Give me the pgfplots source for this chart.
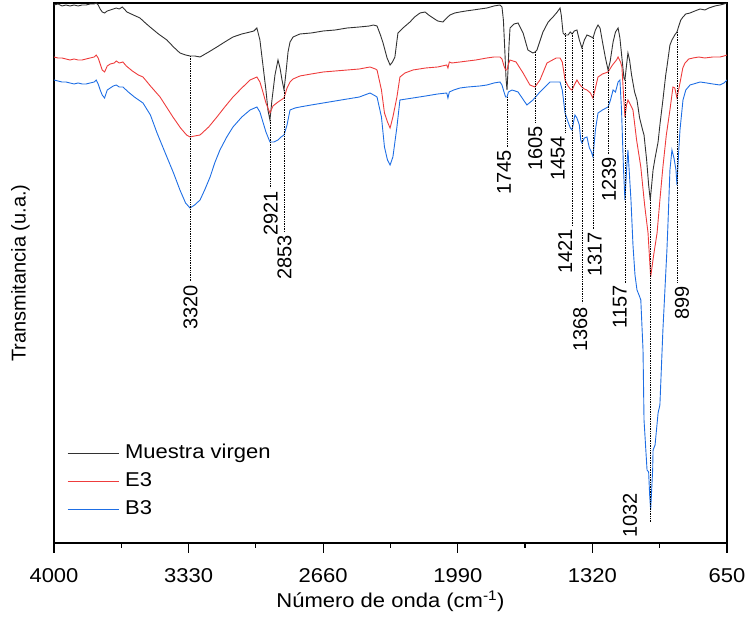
\documentclass[border=0pt]{standalone}
\usepackage{fontspec}
\setmainfont{Liberation Sans}
\newfontfamily\hfont[FakeStretch=1.1]{Liberation Sans}
\usepackage{pgfplots}
\pgfplotsset{compat=1.18}
\definecolor{cblack}{RGB}{50,50,50}
\definecolor{cred}{RGB}{238,60,60}
\definecolor{cblue}{RGB}{30,110,228}
\newcommand\hf{\hfont\fontsize{20}{24}\selectfont}
\newcommand\lf{\fontsize{20}{24}\selectfont}
% peak marker: wavenumber, curve y, line end, label x, label top, text
\newcommand\pk[6]{%
  \draw[densely dotted, line width=0.7pt] (axis cs:#1,-#2) -- (axis cs:#1,-#3);
  \node[rotate=90, anchor=east, inner sep=0pt, font=\lf] at (axis cs:#4,-#5) {#6};
}

\begin{document}
\begin{tikzpicture}
\begin{axis}[
  scale only axis, width=673pt, height=540pt,
  x dir=reverse, xmin=650, xmax=4000, ymin=-543, ymax=-3,
  axis line style={line width=1.2pt},
  xtick={650,1320,1990,2660,3330,4000},
  xticklabels={650,1320,1990,2660,3330,4000},
  minor x tick num=1,
  xtick pos=left, ytick=\empty,
  tick align=outside,
  major tick length=10pt, minor tick length=5pt,
  every tick/.style={black, line width=1.2pt},
  xticklabel style={font=\hf, anchor=center, yshift=-23pt, inner sep=0pt},
  xlabel={Número de onda (cm\textsuperscript{-1})},
  xlabel style={font=\hf, at={(axis description cs:0.5,-0.108)}, anchor=center},
  ylabel={Transmitancia (u.a.)},
  ylabel style={font=\lf, at={(axis description cs:-0.05,0.5)}, anchor=center},
  legend style={draw=none, fill=none, inner sep=0pt,
    at={(axis description cs:0.0193,0.183)}, anchor=north west,
    font=\hf, row sep=10pt, column sep=6pt,
    nodes={inner sep=0pt, text height=14pt, text depth=4pt}},
  legend cell align=left,
  legend image code/.code={\draw[#1] (0pt,0pt) -- (51pt,0pt);},
]
% Muestra virgen
\addplot[cblack, line width=0.9pt] coordinates {
(4000,-5) (3980,-4) (3960,-6) (3940,-5) (3920,-6) (3900,-5) (3880,-6) (3860,-5) (3840,-5) (3820,-4)
(3800,-4) (3790,-3) (3780,-5) (3770,-9) (3760,-12) (3748,-13) (3735,-11) (3720,-10) (3705,-9) (3690,-8)
(3675,-9) (3660,-7) (3650,-9) (3637,-12) (3605,-15) (3572,-18) (3545,-23) (3522,-27) (3480,-34) (3438,-40)
(3405,-47) (3373,-53) (3345,-55) (3323,-56) (3300,-56) (3273,-57) (3230,-52) (3189,-47) (3150,-42) (3109,-37)
(3065,-34) (3024,-32) (3005,-31) (2990,-28) (2975,-40) (2960,-65) (2945,-90) (2935,-110) (2925,-120) (2915,-100)
(2900,-75) (2885,-60) (2875,-68) (2865,-80) (2855,-90) (2845,-72) (2835,-52) (2825,-42) (2810,-37) (2776,-34)
(2720,-33) (2660,-31) (2600,-30) (2540,-28) (2480,-27) (2430,-26) (2410,-25) (2392,-26) (2375,-35) (2362,-43)
(2342,-58) (2327,-65) (2315,-62) (2303,-57) (2288,-33) (2263,-28) (2228,-22) (2205,-17) (2178,-13) (2153,-12)
(2135,-15) (2113,-18) (2090,-21) (2064,-22) (2045,-18) (2029,-15) (2005,-13) (1979,-12) (1950,-11) (1914,-10)
(1880,-9) (1845,-8) (1810,-6) (1780,-5) (1770,-7) (1763,-20) (1756,-50) (1750,-78) (1745,-90) (1740,-70)
(1735,-45) (1730,-28) (1710,-24) (1690,-23) (1665,-33) (1641,-50) (1616,-53) (1605,-52) (1596,-50) (1566,-32)
(1540,-22) (1516,-17) (1495,-12) (1481,-8) (1475,-15) (1466,-33) (1456,-35) (1441,-35) (1430,-32) (1421,-34)
(1410,-31) (1397,-30) (1385,-40) (1372,-48) (1360,-40) (1347,-35) (1335,-36) (1325,-37) (1317,-38) (1305,-30)
(1292,-25) (1282,-28) (1267,-45) (1255,-58) (1242,-70) (1232,-62) (1217,-42) (1205,-32) (1192,-28) (1183,-38)
(1173,-58) (1163,-78) (1158,-80) (1150,-65) (1143,-53) (1135,-60) (1125,-75) (1110,-92) (1098,-100) (1085,-118)
(1070,-130) (1063,-135) (1050,-160) (1040,-185) (1032,-200) (1025,-185) (1018,-170) (1008,-158) (993,-142) (984,-125)
(969,-100) (955,-75) (949,-67) (934,-45) (924,-40) (910,-35) (899,-32) (890,-26) (880,-20) (869,-17)
(855,-14) (834,-13) (810,-11) (784,-9) (760,-10) (740,-8) (710,-6) (685,-5) (665,-4) (650,-3)
};
\addlegendentry{Muestra virgen}
% E3
\addplot[cred, line width=0.9pt] coordinates {
(4000,-57) (3980,-58) (3960,-58) (3940,-59) (3920,-60) (3900,-59) (3880,-60) (3860,-60) (3840,-59) (3820,-58)
(3800,-57) (3790,-55) (3780,-58) (3770,-64) (3760,-70) (3748,-72) (3735,-66) (3720,-64) (3700,-63) (3690,-61)
(3675,-63) (3657,-62) (3640,-66) (3610,-71) (3580,-75) (3557,-77) (3520,-86) (3472,-97) (3440,-107) (3408,-117)
(3370,-128) (3340,-135) (3323,-137) (3300,-136) (3273,-135) (3230,-127) (3189,-117) (3150,-107) (3109,-97) (3065,-88)
(3024,-80) (2990,-77) (2975,-82) (2960,-92) (2945,-103) (2925,-113) (2910,-106) (2885,-102) (2870,-100) (2855,-98)
(2840,-88) (2825,-82) (2810,-79) (2776,-76) (2720,-74) (2660,-72) (2600,-71) (2540,-70) (2480,-69) (2427,-67)
(2400,-69) (2392,-70) (2370,-90) (2355,-113) (2340,-122) (2327,-128) (2313,-117) (2293,-97) (2278,-77) (2253,-73)
(2213,-70) (2150,-68) (2090,-67) (2045,-65) (2039,-68) (2032,-62) (2020,-63) (1979,-62) (1940,-61) (1900,-60)
(1845,-58) (1810,-57) (1780,-57) (1770,-59) (1760,-66) (1752,-70) (1745,-70) (1738,-64) (1730,-60) (1700,-62)
(1665,-73) (1631,-85) (1606,-87) (1581,-80) (1546,-63) (1500,-58) (1481,-58) (1470,-62) (1456,-80) (1441,-86)
(1430,-89) (1421,-90) (1410,-85) (1397,-80) (1385,-84) (1372,-87) (1360,-89) (1347,-90) (1330,-93) (1317,-98)
(1305,-88) (1292,-77) (1270,-74) (1242,-72) (1220,-65) (1200,-60) (1192,-57) (1180,-62) (1173,-67) (1165,-95)
(1158,-117) (1150,-105) (1143,-100) (1130,-105) (1118,-110) (1100,-140) (1079,-167) (1060,-205) (1043,-233) (1030,-277)
(1015,-255) (998,-233) (984,-200) (969,-167) (952,-135) (934,-110) (919,-87) (910,-88) (899,-98) (884,-83)
(870,-68) (859,-63) (840,-59) (819,-58) (790,-57) (760,-58) (720,-57) (685,-57) (665,-56) (650,-55)
};
\addlegendentry{E3}
% B3
\addplot[cblue, line width=0.9pt] coordinates {
(4000,-80) (3980,-81) (3960,-82) (3940,-82) (3920,-83) (3900,-84) (3880,-83) (3860,-84) (3840,-84) (3820,-83)
(3800,-82) (3790,-80) (3780,-84) (3770,-90) (3760,-95) (3748,-98) (3735,-90) (3720,-88) (3705,-86) (3690,-85)
(3675,-87) (3657,-87) (3630,-92) (3600,-97) (3557,-103) (3520,-115) (3487,-133) (3438,-157) (3405,-173) (3373,-190)
(3345,-203) (3323,-208) (3300,-205) (3273,-200) (3250,-190) (3223,-177) (3200,-163) (3174,-150) (3140,-137) (3109,-127)
(3065,-117) (3024,-110) (2990,-107) (2975,-112) (2960,-122) (2945,-132) (2925,-142) (2905,-142) (2885,-140) (2870,-137)
(2855,-135) (2840,-125) (2825,-110) (2800,-108) (2776,-107) (2720,-105) (2660,-103) (2600,-101) (2540,-99) (2480,-97)
(2427,-93) (2400,-96) (2392,-97) (2370,-117) (2355,-147) (2340,-160) (2327,-165) (2313,-157) (2293,-127) (2278,-100)
(2213,-98) (2150,-96) (2090,-94) (2045,-93) (2039,-98) (2032,-92) (2010,-90) (1979,-88) (1940,-87) (1880,-86)
(1845,-85) (1810,-83) (1780,-82) (1770,-85) (1760,-92) (1752,-97) (1745,-97) (1738,-92) (1720,-90) (1690,-92)
(1646,-105) (1616,-100) (1581,-92) (1531,-82) (1481,-82) (1470,-90) (1456,-113) (1441,-122) (1430,-128) (1421,-130)
(1412,-120) (1407,-115) (1397,-118) (1385,-125) (1378,-140) (1372,-143) (1360,-138) (1347,-137) (1335,-148) (1325,-152)
(1317,-157) (1305,-130) (1292,-113) (1270,-110) (1242,-107) (1230,-100) (1217,-90) (1205,-92) (1192,-82) (1183,-80)
(1175,-110) (1165,-170) (1158,-200) (1150,-170) (1143,-150) (1128,-200) (1118,-245) (1108,-275) (1098,-290) (1088,-295)
(1079,-300) (1068,-350) (1063,-420) (1048,-470) (1040,-472) (1035,-495) (1030,-510) (1020,-470) (1018,-450) (1008,-445)
(993,-413) (984,-405) (969,-330) (959,-290) (949,-250) (944,-225) (934,-170) (924,-150) (914,-158) (904,-170)
(899,-185) (890,-150) (884,-130) (869,-100) (855,-90) (834,-85) (800,-83) (784,-82) (750,-83) (720,-84)
(685,-85) (665,-83) (650,-80)
};
\addlegendentry{B3}
% peak labels
\pk{3320}{56}{282}{3320}{285}{3320}
\pk{2921}{120}{188}{2921}{191}{2921}
\pk{2853}{90}{232}{2853}{235}{2853}
\pk{1745}{97}{147}{1760}{150}{1745}
\pk{1605}{52}{123}{1605}{126}{1605}
\pk{1454}{33}{132}{1492}{136}{1454}
\pk{1421}{33}{226}{1456}{229}{1421}
\pk{1368}{48}{303}{1380}{307}{1368}
\pk{1317}{38}{229}{1308}{232}{1317}
\pk{1239}{70}{154}{1237}{157}{1239}
\pk{1157}{80}{283}{1183}{285}{1157}
\pk{1032}{200}{522}{1133}{493}{1032}
\pk{899}{32}{282}{874}{286}{899}
\end{axis}
\path ([xshift=-54pt,yshift=-74pt]current axis.south west) rectangle ([xshift=21pt,yshift=3pt]current axis.north east);
\end{tikzpicture}
\end{document}
